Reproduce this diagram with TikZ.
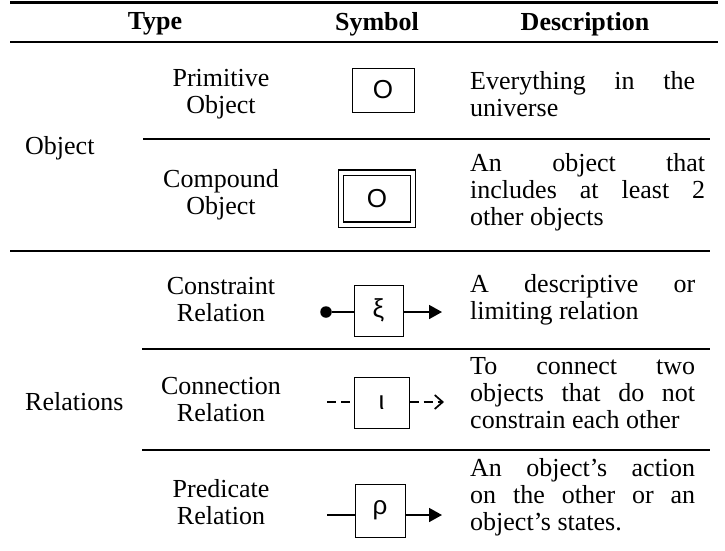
\documentclass[tikz,border=0pt]{standalone}
\usepackage{fontspec}
\setmainfont{Liberation Serif}
\newfontfamily\symfont{Liberation Sans}
\usetikzlibrary{arrows.meta}
\begin{document}
\begin{tikzpicture}[x=1pt,y=-1pt,
  txt/.style={font=\fontsize{26}{27}\selectfont, inner sep=0pt},
  hdr/.style={inner sep=0pt, font=\fontsize{26}{27}\selectfont\bfseries},
  lbl/.style={txt, align=center},
  desc/.style={txt, anchor=west, align=left},
  symbox/.style={draw, line width=1pt, inner sep=0pt, font=\symfont\fontsize{26}{27}\selectfont},
  conn/.style={line width=1.7pt},
  dsh/.style={conn, dash pattern=on 9pt off 5pt},
  rulethick/.style={line width=2.6pt},
  rulethin/.style={line width=1.9pt},
  filledtip/.style={-{Triangle[length=13pt,width=14pt]}},
  opentip/.style={-{Straight Barb[length=8pt,width=14pt]}}
]
\useasboundingbox (0,0) rectangle (725,550);
% table rules
\draw[rulethick] (10,2.5) -- (718,2.5);
\draw[rulethick] (10,42) -- (718,42);
\draw[rulethin] (143,139) -- (710,139);
\draw[rulethin] (10,251) -- (710,251);
\draw[rulethin] (142,349) -- (710,349);
\draw[rulethin] (142,450) -- (710,450);
% header
\node[hdr] (hType) at (155,24) {Type};
\node[hdr] (hSym) at (377,24) {Symbol};
\node[hdr] (hDesc) at (585,24) {Description};
% group labels
\node[txt, anchor=west] (gObj) at (25,148.5) {Object};
\node[txt, anchor=west] (gRel) at (25,401.5) {Relations};
% type labels
\node[lbl] (tPrim) at (221,94.5) {Primitive\\Object};
\node[lbl] (tComp) at (221,195) {Compound\\Object};
\node[lbl] (tCons) at (221,300) {Constraint\\Relation};
\node[lbl] (tConn) at (221,400) {Connection\\Relation};
\node[lbl] (tPred) at (221,502.5) {Predicate\\Relation};
% descriptions
\node[desc] (dPrim) at (470,94.5) {\hbox to 225pt{Everything\hfill in\hfill the}\\universe};
\node[desc] (dComp) at (470,192.5) {\hbox to 235pt{An\hfill object\hfill that}\\\hbox to 235pt{includes\hfill at\hfill least\hfill 2}\\other objects};
\node[desc] (dCons) at (470,300) {\hbox to 225pt{A\hfill descriptive\hfill or}\\limiting relation};
\node[desc] (dConn) at (470,393) {\hbox to 225pt{To\hfill connect\hfill two}\\\hbox to 225pt{objects\hfill that\hfill do\hfill not}\\constrain each other};
\node[desc] (dPred) at (470,497) {\hbox to 225pt{An\hfill object’s\hfill action}\\\hbox to 225pt{on\hfill the\hfill other\hfill or\hfill an}\\object’s states.};
% symbols
\node[symbox, minimum width=62pt, minimum height=44pt] (sPrim) at (383,90) {O};
\node[symbox, line width=1.2pt, double, double distance=4pt, minimum width=72pt, minimum height=52pt] (sComp) at (377,198.5) {O};
\node[symbox, minimum width=49pt, minimum height=51pt] (sCons) at (378.5,310.5) {ξ};
\node[symbox, minimum width=55pt, minimum height=51pt] (sConn) at (381.5,402.5) {ι};
\node[symbox, minimum width=50pt, minimum height=53pt] (sPred) at (380,510.5) {ρ};
% constraint connectors
\node[circle, fill, inner sep=0pt, minimum size=11.5pt] (consDot) at (326,312) {};
\coordinate (consEnd) at (442,312);
\draw[conn] (consDot) -- (consDot -| sCons.west);
\draw[conn, filledtip] (consDot -| sCons.east) -- (consEnd);
% connection connectors
\coordinate (connStart) at (327,402);
\coordinate (connEnd) at (444,402);
\draw[dsh] (connStart) -- (connStart -| sConn.west);
\draw[dsh, opentip] (connStart -| sConn.east) -- (connEnd);
% predicate connectors
\coordinate (predStart) at (327,515);
\coordinate (predEnd) at (442,515);
\draw[conn] (predStart) -- (predStart -| sPred.west);
\draw[conn, filledtip] (predStart -| sPred.east) -- (predEnd);
\end{tikzpicture}
\end{document}
